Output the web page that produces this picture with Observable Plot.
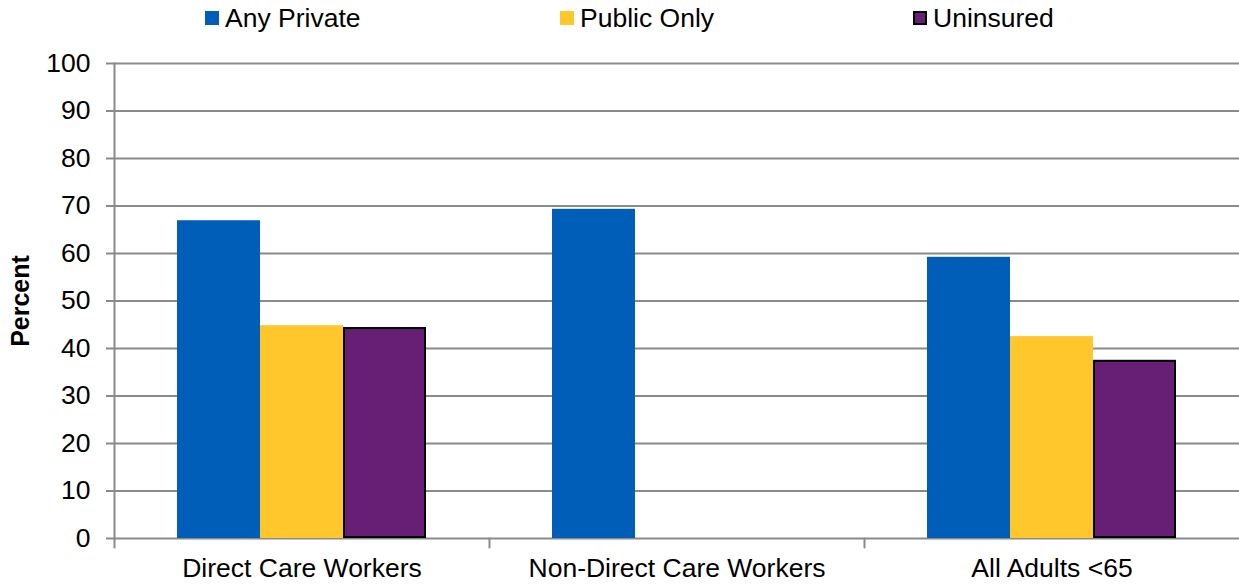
<!DOCTYPE html>
<html><head><meta charset="utf-8">
<script src="https://cdn.jsdelivr.net/npm/d3@7"></script>
<script src="https://cdn.jsdelivr.net/npm/@observablehq/plot@0.6"></script>
<style>
body{margin:0;background:#fff;font-family:"Liberation Sans",Arial,sans-serif;}
#legend{position:relative;height:36px;width:1239px;}
.item{position:absolute;top:0;display:flex;align-items:center;font-size:26.5px;color:#000;height:36px;white-space:nowrap;}
.sw{width:14px;height:14px;margin-right:6px;box-sizing:border-box;}
</style></head><body>
<div id="legend"></div><div id="chart"></div>
<script>
const categories = ["Direct Care Workers", "Non-Direct Care Workers", "All Adults <65"];
const series = ["Any Private", "Public Only", "Uninsured"];
const anyPrivate = [66.9, 69.3, 59.2];
const publicOnly = [44.8, null, 42.5];
const uninsured = [44.4, null, 37.5];
const yTicks = [0, 10, 20, 30, 40, 50, 60, 70, 80, 90, 100];
const colors = ["#005EB8", "#FFC72C", "#671E75"];

const values = [anyPrivate, publicOnly, uninsured];
const rows = [];
categories.forEach((c, i) => series.forEach((s, j) => {
  if (values[j][i] != null) rows.push({category: c, series: s, value: values[j][i]});
}));

// legend
const legend = document.getElementById("legend");
const legendLeft = [205, 560, 913];
series.forEach((s, j) => {
  const it = document.createElement("div");
  it.className = "item";
  it.style.left = legendLeft[j] + "px";
  const sw = document.createElement("span");
  sw.className = "sw";
  sw.style.background = colors[j];
  if (s === "Uninsured") sw.style.border = "2px solid #000";
  it.appendChild(sw);
  it.appendChild(document.createTextNode(s));
  legend.appendChild(it);
});

const gray = "#8a8a8a";
const tickShape = {draw(context, l) { context.moveTo(0, 0); context.lineTo(0, -l); }};

const chart = Plot.plot({
  width: 1239, height: 550,
  marginLeft: 113, marginRight: 0, marginTop: 27, marginBottom: 48,
  style: {fontFamily: "Liberation Sans, Arial, sans-serif", color: "#000", background: "#fff", overflow: "visible"},
  fx: {domain: categories, padding: 0, label: null},
  x: {domain: series, paddingInner: 0, paddingOuter: 0.738, axis: null},
  y: {domain: [0, 100]},
  color: {domain: series, range: colors},
  marks: [
    Plot.gridY(yTicks, {stroke: gray, strokeOpacity: 1, strokeWidth: 2}),
    Plot.frame({anchor: "left", facetAnchor: "left", stroke: gray, strokeWidth: 2}),
    Plot.barY(rows, {fx: "category", x: "series", y: "value", fill: "series"}),
    Plot.barY(rows.filter(d => d.series === "Uninsured"), {fx: "category", x: "series", y: "value", fill: "series", stroke: "#000", strokeWidth: 2, inset: 1}),
    Plot.vector([0], {frameAnchor: "bottom-left", rotate: 180, length: 9, anchor: "start", stroke: gray, strokeWidth: 2, shape: tickShape}),
    Plot.axisY(yTicks, {tickSize: 8, tickPadding: 16, fontSize: 26.5, stroke: gray, strokeWidth: 2, label: null}),
    Plot.axisY({ticks: [], label: "Percent", labelAnchor: "center", labelOffset: 103, labelArrow: "none", fontSize: 25, fontWeight: "bold"}),
    Plot.axisFx({anchor: "bottom", tickSize: 0, tickPadding: 20, fontSize: 26.5, label: null})
  ]
});
document.getElementById("chart").appendChild(chart);
</script>
</body></html>
